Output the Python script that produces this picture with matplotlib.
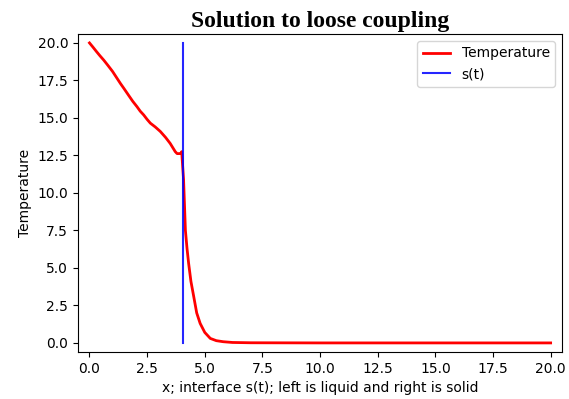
import numpy as np
import matplotlib.pyplot as plt

# temperature profile along the rod
x = [0.0, 0.15, 0.3, 0.45, 0.62, 0.8, 1.0, 1.17, 1.34, 1.5, 1.7, 1.88, 2.06, 2.2, 2.35,
     2.5, 2.64, 2.85, 3.07, 3.3, 3.5, 3.62, 3.72, 3.8, 3.9, 3.97, 4.0,
     4.04, 4.08, 4.12, 4.16, 4.23, 4.3, 4.4, 4.52, 4.65, 4.8, 5.0, 5.24, 5.5, 5.8,
     6.2, 7.0, 10.0, 15.0, 20.0]
T = [20.0, 19.72, 19.43, 19.15, 18.85, 18.5, 18.1, 17.7, 17.3, 16.95, 16.5, 16.1, 15.75, 15.45, 15.2,
     14.9, 14.65, 14.4, 14.1, 13.7, 13.3, 13.0, 12.75, 12.62, 12.62, 12.65, 12.75,
     11.8, 10.9, 9.2, 7.5, 6.3, 5.3, 4.1, 3.1, 2.0, 1.3, 0.7, 0.3, 0.15, 0.08,
     0.03, 0.01, 0.0, 0.0, 0.0]
s = 4.05  # interface position

fig = plt.figure(figsize=(5.69, 3.99), dpi=100)
ax = fig.add_axes([0.137, 0.118, 0.851, 0.797])

ax.plot(x, T, color='red', linewidth=2, label='Temperature')
ax.plot([s, s], [0, 20], color='blue', linewidth=1.5, label='s(t)', alpha=0.85)

ax.set_xlim(-0.5, 20.5)
ax.set_ylim(-0.6, 20.6)
ax.set_xticks(np.arange(0, 20.1, 2.5))
ax.set_yticks(np.arange(0, 20.1, 2.5))
ax.set_xlabel('x; interface s(t); left is liquid and right is solid')
ax.set_ylabel('Temperature')
ax.set_title('Solution to loose coupling', fontfamily='Liberation Serif',
             fontweight='bold', fontsize=17, pad=5)
ax.legend(loc='upper right')

fig.savefig('out.png', dpi=100)
